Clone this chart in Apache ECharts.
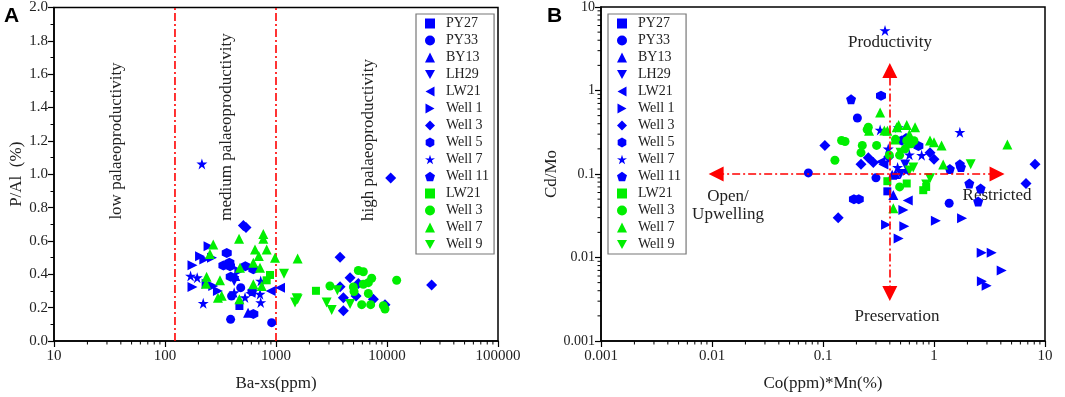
<!DOCTYPE html>
<html>
<head>
<meta charset="utf-8">
<script src="https://cdn.jsdelivr.net/npm/echarts@6/dist/echarts.min.js"></script>
<style>
  html, body { margin: 0; padding: 0; background: #fff; }
  #chart { width: 1065px; height: 397px; }
</style>
</head>
<body>
<div id="chart"></div>
<script>
// legend names (trailing space keeps the green duplicates apart)
const seriesNames = ['PY27', 'PY33', 'BY13', 'LH29', 'LW21', 'Well 1', 'Well 3', 'Well 5', 'Well 7', 'Well 11', 'LW21 ', 'Well 3 ', 'Well 7 ', 'Well 9'];

// panel A: Ba-xs (ppm) vs P/Al (%)
const aPY27 = [[468, 0.21]];
const aPY33 = [[390, 0.13], [914, 0.11], [481, 0.32], [398, 0.27]];
const aBY13 = [[560, 0.17], [430, 0.39]];
const aLH29 = [[420, 0.36]];
const aLW21 = [[1087, 0.32], [895, 0.30], [590, 0.29]];
const aWell1 = [[177, 0.455], [177, 0.324], [207, 0.508], [226, 0.489], [247, 0.568], [265, 0.499], [272, 0.33], [237, 0.344], [468, 0.42], [300, 0.30]];
const aWell3 = [[508, 0.692], [537, 0.68], [10800, 0.977], [3777, 0.502], [4645, 0.38], [4047, 0.26], [4047, 0.182], [3777, 0.325], [5263, 0.27], [5517, 0.345], [7534, 0.25], [9590, 0.218], [25230, 0.336]];
const aWell5 = [[360, 0.528], [336, 0.453], [380, 0.469], [385, 0.449], [529, 0.449], [391, 0.386], [625, 0.43], [625, 0.162]];
const aWell7 = [[215, 1.062], [170, 0.39], [195, 0.38], [221, 0.226], [526, 0.261], [718, 0.281], [728, 0.36], [728, 0.231], [420, 0.29]];
const aWell11 = [[610, 0.30]];
const aLW21g = [[883, 0.396], [824, 0.364], [2291, 0.301]];
const aWell3g = [[5517, 0.423], [6120, 0.415], [4977, 0.324], [5047, 0.297], [6120, 0.34], [6792, 0.35], [7278, 0.376], [6792, 0.285], [5916, 0.218], [7127, 0.218], [9270, 0.212], [9590, 0.192], [12220, 0.364], [3062, 0.33]];
const aWell7g = [[272, 0.578], [254, 0.522], [237, 0.386], [234, 0.344], [313, 0.364], [324, 0.271], [300, 0.26], [465, 0.613], [474, 0.439], [769, 0.641], [769, 0.613], [647, 0.548], [824, 0.548], [625, 0.469], [718, 0.439], [743, 0.33], [979, 0.499], [1567, 0.495], [468, 0.25], [625, 0.34], [700, 0.51]];
const aWell9g = [[1180, 0.404], [1483, 0.231], [1535, 0.257], [1567, 0.25], [2857, 0.231], [3174, 0.186], [3571, 0.305], [4645, 0.222]];

// panel B: Co(ppm)*Mn(%) vs Cd/Mo
const bPY27 = [[0.38, 0.062]];
const bPY33 = [[0.204, 0.469], [0.0738, 0.103], [1.37, 0.0447], [0.3, 0.09]];
const bBY13 = [[0.42, 0.098], [0.45, 0.1], [0.43, 0.056]];
const bLH29 = [[0.55, 0.13], [0.5, 0.1]];
const bLW21 = [[0.58, 0.048], [0.33, 0.14], [0.35, 0.13]];
const bWell1 = [[0.53, 0.037], [0.37, 0.0247], [0.54, 0.0236], [0.48, 0.0169], [1.04, 0.0275], [1.79, 0.0295], [2.69, 0.0114], [3.31, 0.0114], [4.07, 0.007], [2.7, 0.0052], [2.98, 0.0046]];
const bWell3 = [[0.104, 0.22], [0.22, 0.131], [0.256, 0.156], [0.284, 0.137], [0.92, 0.18], [1.0, 0.15], [8.13, 0.131], [6.74, 0.077], [0.137, 0.030], [0.39, 0.16]];
const bWell5 = [[0.333, 0.863], [0.512, 0.252], [0.723, 0.216], [0.19, 0.05], [0.21, 0.05]];
const bWell7 = [[0.362, 5.24], [0.327, 0.337], [0.477, 0.361], [0.774, 0.168], [1.71, 0.316], [0.387, 0.2], [0.47, 0.12], [0.56, 0.11], [0.6, 0.17]];
const bWell11 = [[0.179, 0.787], [1.39, 0.115], [1.71, 0.131], [1.75, 0.121], [2.08, 0.077], [2.63, 0.067], [2.5, 0.047], [0.56, 0.27]];
const bLW21g = [[0.38, 0.082], [0.568, 0.077], [0.8, 0.064], [0.85, 0.07]];
const bWell3g = [[0.256, 0.363], [0.25, 0.34], [0.147, 0.252], [0.158, 0.245], [0.226, 0.22], [0.304, 0.22], [0.22, 0.18], [0.128, 0.146], [0.396, 0.168], [0.49, 0.168], [0.568, 0.25], [0.62, 0.23], [0.66, 0.25], [0.49, 0.07], [0.55, 0.2], [0.45, 0.26]];
const bWell7g = [[0.327, 0.547], [0.357, 0.331], [0.38, 0.33], [0.461, 0.363], [0.48, 0.387], [0.568, 0.387], [0.675, 0.363], [0.446, 0.259], [0.92, 0.252], [1.0, 0.24], [1.17, 0.22], [1.21, 0.13], [4.58, 0.226], [0.43, 0.039], [0.26, 0.33], [0.6, 0.3]];
const bWell9g = [[0.92, 0.089], [0.85, 0.075], [2.14, 0.131], [0.5, 0.18], [0.65, 0.12], [0.6, 0.11]];

// boundaries / arrows
const aBoundaries = [123, 1000];
const bCross = [0.4, 0.1];
const bArrowX = [0.0109, 3.7];
const bArrowY = [0.0037, 1.74];

// tick labels
const aXTickLabels = ['10', '100', '1000', '10000', '100000'];
const aYTickLabels = ['0.0', '0.2', '0.4', '0.6', '0.8', '1.0', '1.2', '1.4', '1.6', '1.8', '2.0'];
const bXTickLabels = ['0.001', '0.01', '0.1', '1', '10'];
const bYTickLabels = ['0.001', '0.01', '0.1', '1', '10'];

const aData = [aPY27, aPY33, aBY13, aLH29, aLW21, aWell1, aWell3, aWell5, aWell7, aWell11, aLW21g, aWell3g, aWell7g, aWell9g];
const bData = [bPY27, bPY33, bBY13, bLH29, bLW21, bWell1, bWell3, bWell5, bWell7, bWell11, bLW21g, bWell3g, bWell7g, bWell9g];

const BLUE = '#0000ff';
const GREEN = '#00ee00';
const DOWN = 'path://M0,0L100,0L50,90Z';
const LEFT = 'path://M90,0L0,50L90,100Z';
const RIGHT = 'path://M0,0L90,50L0,100Z';
const HEX = 'path://M50,0L93.3,25L93.3,75L50,100L6.7,75L6.7,25Z';
const PENT = 'path://M50,0L97.6,34.5L79.4,90.5L20.6,90.5L2.4,34.5Z';
const STAR = 'path://M50,0L61.2,34.6L97.6,34.5L68.1,55.9L79.4,90.5L50,69L20.6,90.5L31.9,55.9L2.4,34.5L38.8,34.6Z';
const marks = [
  ['rect', 8, BLUE], ['circle', 9, BLUE], ['triangle', 10, BLUE], [DOWN, 10, BLUE],
  [LEFT, 10, BLUE], [RIGHT, 10, BLUE], ['diamond', 11, BLUE], [HEX, 10, BLUE],
  [STAR, 11, BLUE], [PENT, 10, BLUE], ['rect', 8, GREEN], ['circle', 9, GREEN],
  ['triangle', 10, GREEN], [DOWN, 10, GREEN]
];

// 2..9 within each decade, for the log axes' minor ticks
function minorTicks(fromExp, toExp) {
  const out = [];
  for (let e = fromExp; e < toExp; e++) {
    for (let k = 2; k <= 9; k++) out.push(+(k * Math.pow(10, e)).toPrecision(6));
  }
  return out;
}

const serif = 'Liberation Serif';
const textColor = '#222';
const axisLine = { show: true, lineStyle: { color: '#000', width: 1.5 } };
const label = { color: textColor, fontFamily: serif, fontSize: 15 };
const nameStyle = { color: textColor, fontFamily: serif, fontSize: 17 };
const dashDot = { color: '#ff0000', width: 1.6, type: [8, 3, 2, 3] };

const chart = echarts.init(document.getElementById('chart'));

const series = [];
seriesNames.forEach((name, i) => {
  const [symbol, size, color] = marks[i];
  const itemStyle = { color, opacity: 1 };
  series.push({ type: 'scatter', name, xAxisIndex: 0, yAxisIndex: 0, data: aData[i], symbol, symbolSize: size, itemStyle, z: 3 });
  series.push({ type: 'scatter', name, xAxisIndex: 1, yAxisIndex: 1, data: bData[i], symbol, symbolSize: size, itemStyle, z: 3 });
});
aBoundaries.forEach(x => {
  series.push({ type: 'line', xAxisIndex: 0, yAxisIndex: 0, data: [[x, 0], [x, 2]], symbol: 'none', lineStyle: dashDot, silent: true, z: 2 });
});
series.push({
  type: 'scatter', xAxisIndex: 1, yAxisIndex: 1, data: [bCross], symbolSize: 0, silent: true, z: 2,
  markLine: {
    silent: true, animation: false, symbol: ['triangle', 'triangle'], symbolSize: 15,
    label: { show: false }, lineStyle: dashDot, emphasis: { disabled: true },
    data: [
      [{ coord: [bArrowX[0], bCross[1]] }, { coord: [bArrowX[1], bCross[1]] }],
      [{ coord: [bCross[0], bArrowY[0]] }, { coord: [bCross[0], bArrowY[1]] }]
    ]
  }
});

// minor ticks drawn through the axes' own scales
function tickSeries(xi, yi, data, dx, dy) {
  return {
    type: 'custom', xAxisIndex: xi, yAxisIndex: yi, data, silent: true, clip: false, z: 6,
    renderItem: (params, api) => {
      const p = api.coord([api.value(0), api.value(1)]);
      return { type: 'line', shape: { x1: p[0], y1: p[1], x2: p[0] + dx, y2: p[1] + dy }, style: { stroke: '#000', lineWidth: 1 } };
    }
  };
}
series.push(tickSeries(0, 0, minorTicks(1, 5).map(v => [v, 0]), 0, 3.5));
series.push(tickSeries(1, 1, minorTicks(-3, 1).map(v => [v, 0.001]), 0, 3.5));
series.push(tickSeries(1, 1, minorTicks(-3, 1).map(v => [0.001, v]), -3.5, 0));

const legendBase = {
  data: seriesNames, orient: 'vertical', top: 14, itemWidth: 10, itemHeight: 10, itemGap: 0,
  padding: [1, 5, 1, 9], borderColor: '#777', borderWidth: 1.2, selectedMode: false,
  formatter: n => n.trim(),
  textStyle: { color: textColor, fontFamily: serif, fontSize: 14, lineHeight: 17, padding: [0, 0, 0, 6] }
};

const txt = (x, y, text, rot) => ({
  type: 'text', x, y, rotation: rot || 0, silent: true,
  style: { text, fill: textColor, font: '17px "Liberation Serif"', textAlign: 'center', textVerticalAlign: 'middle', align: 'center', verticalAlign: 'middle', lineHeight: 18 }
});

chart.setOption({
  animation: false,
  backgroundColor: '#fff',
  grid: [
    { left: 54, top: 7, width: 444, height: 337, show: true, borderColor: '#000', borderWidth: 1.5 },
    { left: 601, top: 7, width: 444, height: 337, show: true, borderColor: '#000', borderWidth: 1.5 }
  ],
  xAxis: [
    {
      type: 'log', gridIndex: 0, min: 10, max: 100000, position: 'bottom',
      name: 'Ba-xs(ppm)', nameLocation: 'middle', nameGap: 34, nameTextStyle: nameStyle,
      axisLine, axisTick: { length: 6, lineStyle: { color: '#000', width: 1.2 } },
      axisLabel: { ...label, margin: 8, formatter: (v, i) => aXTickLabels[i] },
      splitLine: { show: false }
    },
    {
      type: 'log', gridIndex: 1, min: 0.001, max: 10, position: 'bottom',
      name: 'Co(ppm)*Mn(%)', nameLocation: 'middle', nameGap: 34, nameTextStyle: nameStyle,
      axisLine, axisTick: { length: 6, lineStyle: { color: '#000', width: 1.2 } },
      axisLabel: { ...label, margin: 8, formatter: (v, i) => bXTickLabels[i] },
      splitLine: { show: false }
    }
  ],
  yAxis: [
    {
      type: 'value', gridIndex: 0, min: 0, max: 2, interval: 0.2, position: 'left',
      name: 'P/Al  (%)', nameLocation: 'middle', nameGap: 27, nameTextStyle: nameStyle,
      axisLine, axisTick: { length: 6, lineStyle: { color: '#000', width: 1.2 } },
      minorTick: { show: true, splitNumber: 2, length: 3.5, lineStyle: { color: '#000', width: 1 } },
      axisLabel: { ...label, margin: 6, formatter: (v, i) => aYTickLabels[i] },
      splitLine: { show: false }
    },
    {
      type: 'log', gridIndex: 1, min: 0.001, max: 10, position: 'left',
      name: 'Cd/Mo', nameLocation: 'middle', nameGap: 38, nameTextStyle: nameStyle,
      axisLine, axisTick: { length: 6, lineStyle: { color: '#000', width: 1.2 } },
      axisLabel: { ...label, fontSize: 14, margin: 6, formatter: (v, i) => bYTickLabels[i] },
      splitLine: { show: false }
    }
  ],
  legend: [
    { ...legendBase, left: 416 },
    { ...legendBase, left: 608 }
  ],
  graphic: [
    { type: 'text', left: 4, top: 6, silent: true, style: { text: 'A', fill: '#000', font: 'bold 21px "Liberation Sans"' } },
    { type: 'text', left: 547, top: 6, silent: true, style: { text: 'B', fill: '#000', font: 'bold 21px "Liberation Sans"' } },
    txt(117, 141, 'low palaeoproductivity', Math.PI / 2),
    txt(227, 127, 'medium palaeoproductivity', Math.PI / 2),
    txt(369, 140, 'high palaeoproductivity', Math.PI / 2),
    txt(890, 43, 'Productivity'),
    txt(897, 317, 'Preservation'),
    txt(728, 206, 'Open/\nUpwelling'),
    txt(997, 196, 'Restricted')
  ],
  series
});
</script>
</body>
</html>
